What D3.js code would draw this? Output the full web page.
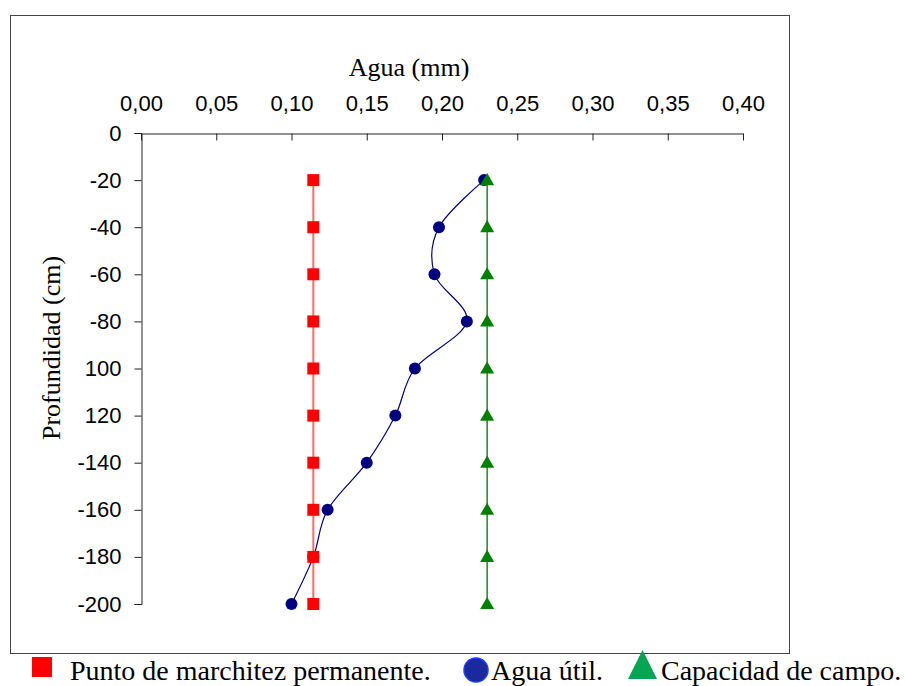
<!DOCTYPE html>
<html>
<head>
<meta charset="utf-8">
<script src="https://cdn.jsdelivr.net/npm/d3@7"></script>
<style>
    body { margin: 0; background: #fff; }
</style>
</head>
<body>
<div id="chart"></div>
<script>
const width = 905
const height = 686

// Datos
const depth = [20, 40, 60, 80, 100, 120, 140, 160, 180, 200]
const puntoMarchitez = [0.1145, 0.1145, 0.1145, 0.1145, 0.1145, 0.1145, 0.1145, 0.1145, 0.1145, 0.1145]
const aguaUtil = [0.228, 0.198, 0.195, 0.2165, 0.182, 0.169, 0.150, 0.124, 0.1145, 0.100]
const capacidadCampo = [0.230, 0.230, 0.230, 0.230, 0.230, 0.230, 0.230, 0.230, 0.230, 0.230]

const xTicks = [0, 0.05, 0.10, 0.15, 0.20, 0.25, 0.30, 0.35, 0.40]
const xTickLabels = ["0,00", "0,05", "0,10", "0,15", "0,20", "0,25", "0,30", "0,35", "0,40"]
const yTicks = [0, 20, 40, 60, 80, 100, 120, 140, 160, 180, 200]
const yTickLabels = ["0", "-20", "-40", "-60", "-80", "100", "120", "-140", "-160", "-180", "-200"]

const legendLabels = ["Punto de marchitez permanente.", "Agua útil.", "Capacidad de campo."]

const svg = d3.select("div#chart")
    .append("svg")
    .attr("width", width)
    .attr("height", height)

// marco del gráfico
svg.append("rect")
    .attr("x", 10.5).attr("y", 15.5)
    .attr("width", 779).attr("height", 638)
    .attr("fill", "none")
    .attr("stroke", "#444")

// Escalas
const x = d3.scaleLinear().domain([0, 0.40]).range([141, 743])
const y = d3.scaleLinear().domain([0, 200]).range([133, 604])

// Eje superior (ticks hacia dentro)
const xAxis = d3.axisTop(x)
    .tickValues(xTicks)
    .tickFormat((d, i) => xTickLabels[i])
    .tickSizeInner(-7)
    .tickSizeOuter(0)
    .tickPadding(23)

const yAxis = d3.axisLeft(y)
    .tickValues(yTicks)
    .tickFormat((d, i) => yTickLabels[i])
    .tickSize(7)
    .tickPadding(13)

const axisStyle = g => {
    g.selectAll("path, line").attr("stroke", "#222")
    g.selectAll("text")
        .attr("fill", "#000")
        .style("font-family", "'Liberation Sans', Arial, sans-serif")
        .style("font-size", "22px")
}

svg.append("g").attr("transform", "translate(0,133.5)").call(xAxis).call(axisStyle)
svg.append("g").attr("transform", "translate(141.5,0)").call(yAxis).call(axisStyle)

// Títulos de ejes
svg.append("text")
    .attr("x", 409).attr("y", 76)
    .attr("text-anchor", "middle")
    .style("font-family", "'Liberation Serif', 'Times New Roman', serif")
    .style("font-size", "26px")
    .text("Agua (mm)")

svg.append("text")
    .attr("transform", "translate(60,348) rotate(-90)")
    .attr("text-anchor", "middle")
    .style("font-family", "'Liberation Serif', 'Times New Roman', serif")
    .style("font-size", "26px")
    .text("Profundidad (cm)")

// Series
const plot = svg.append("g")

const blueLine = d3.line()
    .x(d => x(d[0]))
    .y(d => y(d[1]))
    .curve(d3.curveCatmullRom.alpha(0))

const straight = d3.line()
    .x(d => x(d[0]))
    .y(d => y(d[1]))

plot.append("path")
    .datum(aguaUtil.map((v, i) => [v, depth[i]]))
    .attr("d", blueLine)
    .attr("fill", "none")
    .attr("stroke", "#000080")
    .attr("stroke-width", 1.2)

plot.selectAll("circle.agua").data(aguaUtil)
    .join("circle")
    .attr("class", "agua")
    .attr("cx", d => x(d))
    .attr("cy", (d, i) => y(depth[i]))
    .attr("r", 6)
    .attr("fill", "#000080")

plot.append("path")
    .datum(puntoMarchitez.map((v, i) => [v, depth[i]]))
    .attr("d", straight)
    .attr("fill", "none")
    .attr("stroke", "#ff6a6a")
    .attr("stroke-width", 2)

plot.selectAll("path.pmp").data(puntoMarchitez)
    .join("path")
    .attr("class", "pmp")
    .attr("transform", (d, i) => `translate(${x(d)},${y(depth[i])})`)
    .attr("d", d3.symbol(d3.symbolSquare, 144))
    .attr("fill", "#ff0000")

plot.append("path")
    .datum(capacidadCampo.map((v, i) => [v, depth[i]]))
    .attr("d", straight)
    .attr("fill", "none")
    .attr("stroke", "#1a8a1a")
    .attr("stroke-width", 1.5)

plot.selectAll("path.cc").data(capacidadCampo)
    .join("path")
    .attr("class", "cc")
    .attr("transform", (d, i) => `translate(${x(d)},${y(depth[i]) + 1})`)
    .attr("d", d3.symbol(d3.symbolTriangle, 85))
    .attr("fill", "#008000")

// Leyenda
const legend = svg.append("g")
    .style("font-family", "'Liberation Serif', 'Times New Roman', serif")
    .style("font-size", "28px")

legend.append("rect")
    .attr("x", 32).attr("y", 657)
    .attr("width", 20).attr("height", 20)
    .attr("fill", "#ff0000")
legend.append("text").attr("x", 70).attr("y", 680).text(legendLabels[0])

legend.append("circle")
    .attr("cx", 476).attr("cy", 670).attr("r", 12)
    .attr("fill", "#1a2a9c")
    .attr("stroke", "#1f3cff")
    .attr("stroke-width", 1.5)
legend.append("text").attr("x", 491).attr("y", 680).text(legendLabels[1])

legend.append("path")
    .attr("d", "M628,679L657,679L642.5,650Z")
    .attr("fill", "#00a651")
legend.append("text").attr("x", 661).attr("y", 680).text(legendLabels[2])
</script>
</body>
</html>
